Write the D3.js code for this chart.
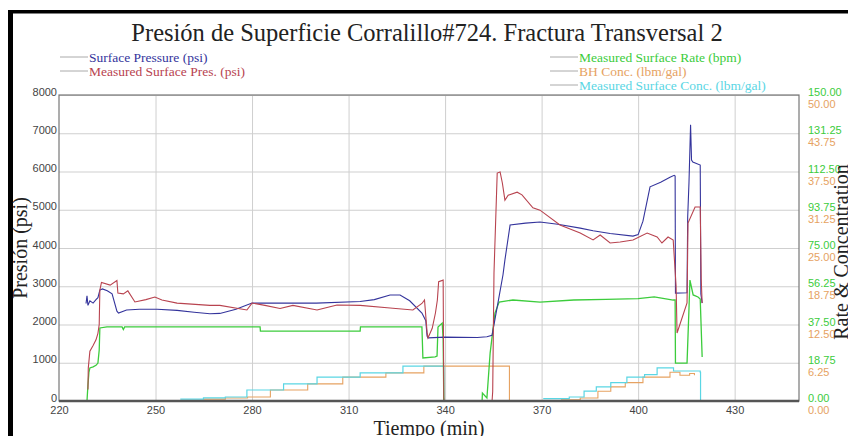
<!DOCTYPE html>
<html><head><meta charset="utf-8">
<script src="https://cdn.jsdelivr.net/npm/d3@7"></script>
<style>
html,body{margin:0;padding:0;background:#fff;}
svg{display:block;}
</style></head>
<body><svg id="c" width="848" height="436"></svg>
<script>
// ---- data ----
const titleText = "Presión de Superficie Corralillo#724. Fractura Transversal 2";
const xTicks = [220,250,280,310,340,370,400,430];
const pressureTicks = [0,1000,2000,3000,4000,5000,6000,7000,8000];
const rateTicks = ["0.00","18.75","37.50","56.25","75.00","93.75","112.50","131.25","150.00"];
const concTicks = ["0.00","6.25","12.50","18.75","25.00","31.25","37.50","43.75","50.00"];

// Surface Pressure (psi): [time min, psi]
const surfacePressure = [[228.4,2550],[228.7,2750],[229.0,2500],[229.6,2620],[230.6,2560],[231.5,2650],[232.1,2700],[232.7,2900],[233.5,2930],[235,2880],[236.5,2800],[238.0,2350],[238.5,2300],[241,2380],[245,2400],[250.5,2400],[256.7,2370],[262,2320],[266.9,2280],[270,2290],[275,2400],[280,2560],[288.7,2560],[300,2560],[313.6,2600],[318,2650],[322.9,2770],[326,2770],[329,2620],[332.8,2300],[334.0,2100],[334.4,1700],[334.7,1650],[340,1670],[350,1660],[353,1680],[354.6,1720],[356.5,2600],[358.0,3300],[358.6,3690],[360.2,4600],[365,4650],[369.5,4680],[375,4620],[382,4520],[386,4450],[391.3,4380],[398.4,4310],[400,4350],[401.5,4700],[403.7,5600],[407,5720],[409.9,5850],[411.2,5900],[411.5,5880],[411.6,2820],[415.2,2830],[415.4,4800],[415.8,5700],[416.3,7220],[416.6,6300],[417,6250],[419.3,6170],[419.5,2800],[419.9,2560]];

// Measured Surface Pres. (psi)
const measuredPressure = [[229.0,300],[229.1,860],[229.6,1300],[230.6,1450],[231.5,1600],[232.1,1770],[232.5,2000],[232.7,2900],[233.2,3100],[235.9,3030],[238.0,3150],[238.3,2820],[240,2800],[241.4,2880],[243.6,2590],[247,2650],[249.8,2720],[252,2640],[256.7,2560],[266.9,2500],[270,2500],[278.4,2380],[280,2560],[284,2500],[288.7,2420],[292.7,2500],[300.2,2380],[306.4,2510],[313.6,2500],[322.9,2430],[330,2380],[332.8,2550],[333.6,2640],[334.4,1800],[334.7,1650],[336,1900],[337,2300],[337.6,2640],[338.0,3120],[339.4,3160],[339.6,100],[339.7,0],[354.6,0],[354.8,250],[355.2,3350],[356.2,5960],[357.1,5990],[357.8,5700],[358.6,5250],[359.6,5380],[362.4,5460],[363.9,5390],[367.3,5050],[369.5,4990],[375.7,4600],[382,4390],[386,4210],[388.2,4340],[391.3,4130],[394.4,4157],[398.4,4209],[402.8,4392],[405.9,4288],[407.4,4131],[409.3,4288],[410.9,4209],[411.8,3000],[412.1,1778],[415.2,2562],[415.5,4650],[417.7,5072],[419.3,5072],[419.6,3200],[419.9,2560]];

// Measured Surface Rate (bpm)
const surfaceRate = [[228.7,0],[229.0,8],[229.3,14],[229.6,16.2],[230.6,16.7],[231.5,17.5],[232.1,18.6],[232.5,25],[232.7,35.8],[234.9,36.3],[239.6,36.3],[240,35],[240.4,36.3],[260,36.3],[282.5,36.3],[282.6,34.3],[313.6,34.3],[313.7,36.3],[332.8,36.3],[333.1,21.1],[336.9,21.6],[337.5,22],[337.8,36.3],[339.1,38.2],[339.4,30],[339.6,0],[351.5,0],[351.6,3.9],[353.0,1.5],[354.0,23.5],[355.5,43.1],[356.8,48.5],[361.1,49.5],[369.5,48.5],[380,49.5],[390,49.8],[400,50.2],[405,51],[410.9,49.5],[411.5,49.5],[411.6,18.6],[415.2,18.6],[415.8,45],[416.1,59.3],[417.1,52],[418.6,51],[419.3,50],[419.9,21.6]];

// BH Conc. (lbm/gal)
const bhConc = [[264.9,0.3],[271.7,0.5],[278.6,0.65],[285.7,1.8],[297.3,2.8],[308.2,3.9],[321.6,4.6],[333.4,5.7],[359.9,5.7],[360,0],[null,null],[376,0.2],[382,0.5],[387.5,1.6],[391.5,2.3],[396,3.0],[401.5,3.9],[409.9,4.7],[413,4.2],[416,4.5],[417.5,4.2]];

// Measured Surface Conc. (lbm/gal)
const surfaceConc = [[257.7,0.3],[264.9,0.5],[271.7,0.65],[278.4,1.8],[289.8,2.8],[300.2,3.9],[313.6,4.6],[326.9,5.7],[339.5,5.7],[339.6,0],[null,null],[370.5,0.4],[378.6,0.65],[383.2,1.6],[387,2.3],[391.5,3.0],[396.5,3.9],[402,4.3],[405.9,5.4],[411,4.9],[419.3,4.7],[419.4,0]];

// ---- chart ----
const svg = d3.select("#c");
const L=59, R=799, T=95, B=401;
const x = d3.scaleLinear().domain([220,450]).range([L,R]);
const yP = d3.scaleLinear().domain([0,8000]).range([B,T]);
const yR = d3.scaleLinear().domain([0,150]).range([B,T]);
const yC = d3.scaleLinear().domain([0,50]).range([B,T]);

const C = {blue:"#34349c", red:"#b8434f", green:"#3ccc3c", orange:"#e6a262", cyan:"#5ad6e4"};
const serif = "'Liberation Serif','Times New Roman',serif";
const sans = "'Liberation Sans',Arial,sans-serif";

// frame (black scan border)
svg.append("rect").attr("x",8).attr("y",10).attr("width",840).attr("height",3.5).attr("fill","#000");
svg.append("rect").attr("x",8).attr("y",10).attr("width",5).attr("height",426).attr("fill","#000");

// grid
svg.append("g").attr("transform",`translate(${L},0)`)
  .call(d3.axisLeft(yP).tickValues(pressureTicks).tickSize(-(R-L)).tickFormat(""))
  .call(g=>{g.select(".domain").remove(); g.selectAll("line").attr("stroke","#cfcfcf");});
svg.append("g").attr("transform",`translate(0,${B})`)
  .call(d3.axisBottom(x).tickValues(xTicks.slice(1)).tickSize(-(B-T)).tickFormat(""))
  .call(g=>{g.select(".domain").remove(); g.selectAll("line").attr("stroke","#cfcfcf");});

// plot border
svg.append("rect").attr("x",L).attr("y",T).attr("width",R-L).attr("height",B-T)
  .attr("fill","none").attr("stroke","#777").attr("stroke-width",1.2);

// series
const mk = (ys, curve) => d3.line().defined(d=>d[0]!==null).x(d=>x(d[0])).y(d=>ys(d[1])).curve(curve||d3.curveLinear);
const plot = svg.append("g");
plot.append("path").datum(bhConc).attr("d",mk(yC,d3.curveStepAfter)).attr("fill","none").attr("stroke",C.orange).attr("stroke-width",1.1);
plot.append("path").datum(surfaceConc).attr("d",mk(yC,d3.curveStepAfter)).attr("fill","none").attr("stroke",C.cyan).attr("stroke-width",1.2);
plot.append("path").datum(surfaceRate).attr("d",mk(yR)).attr("fill","none").attr("stroke",C.green).attr("stroke-width",1.3);
plot.append("path").datum(surfacePressure).attr("d",mk(yP)).attr("fill","none").attr("stroke",C.blue).attr("stroke-width",1.1);
plot.append("path").datum(measuredPressure).attr("d",mk(yP)).attr("fill","none").attr("stroke",C.red).attr("stroke-width",1.1);

// bottom axis line
svg.append("line").attr("x1",L).attr("x2",R).attr("y1",B).attr("y2",B).attr("stroke","#555").attr("stroke-width",2.5);

// left axis labels
svg.append("g").attr("transform",`translate(${L},0)`)
  .call(d3.axisLeft(yP).tickValues(pressureTicks).tickSize(0).tickPadding(2).tickFormat(d3.format("d")))
  .call(g=>{g.select(".domain").remove();
    g.selectAll("text").attr("dy","0em").attr("font-family",sans).attr("font-size",11).attr("fill","#444");});

// bottom axis labels
svg.append("g").attr("transform",`translate(0,${B})`)
  .call(d3.axisBottom(x).tickValues(xTicks).tickSize(0).tickPadding(5).tickFormat(d3.format("d")))
  .call(g=>{g.select(".domain").remove();
    g.selectAll("text").attr("font-family",sans).attr("font-size",11).attr("fill","#444");});

// right axis labels (rate, green)
svg.append("g").attr("transform",`translate(${R},0)`)
  .call(d3.axisRight(yR).tickValues(rateTicks.map(Number)).tickSize(0).tickPadding(9).tickFormat((d,i)=>rateTicks[i]))
  .call(g=>{g.select(".domain").remove();
    g.selectAll("text").attr("dy","0.05em").attr("font-family",sans).attr("font-size",11).attr("fill",C.green);});
// right axis labels (conc, orange)
svg.append("g").attr("transform",`translate(${R},0)`)
  .call(d3.axisRight(yC).tickValues(concTicks.map(Number)).tickSize(0).tickPadding(9).tickFormat((d,i)=>concTicks[i]))
  .call(g=>{g.select(".domain").remove();
    g.selectAll("text").attr("dy","1.15em").attr("font-family",sans).attr("font-size",11).attr("fill",C.orange);});

// titles
svg.append("text").attr("x",427).attr("y",41).attr("text-anchor","middle")
  .attr("font-family",serif).attr("font-size",24.5).attr("fill","#222").text(titleText);
svg.append("text").attr("transform","translate(27,248) rotate(-90)").attr("text-anchor","middle")
  .attr("font-family",serif).attr("font-size",20).attr("fill","#222").text("Presión (psi)");
svg.append("text").attr("transform","translate(848,252) rotate(-90)").attr("text-anchor","middle")
  .attr("font-family",serif).attr("font-size",20).attr("fill","#222").text("Rate & Concentration");
svg.append("text").attr("x",429).attr("y",435).attr("text-anchor","middle")
  .attr("font-family",serif).attr("font-size",20).attr("fill","#222").text("Tiempo (min)");

// legends
const legL = [["Surface Pressure (psi)",C.blue],["Measured Surface Pres. (psi)",C.red]];
const legR = [["Measured Surface Rate (bpm)",C.green],["BH Conc. (lbm/gal)",C.orange],["Measured Surface Conc. (lbm/gal)",C.cyan]];
function legend(items, x0, y0){
  const g = svg.append("g");
  items.forEach((it,i)=>{
    const y = y0 + i*14;
    g.append("line").attr("x1",x0).attr("x2",x0+28).attr("y1",y).attr("y2",y).attr("stroke","#aaa").attr("stroke-width",1);
    g.append("text").attr("x",x0+29).attr("y",y).attr("dy","0.35em")
      .attr("font-family",serif).attr("font-size",13.5).attr("fill",it[1]).text(it[0]);
  });
}
legend(legL, 60, 57);
legend(legR, 550, 57);
</script></body></html>
